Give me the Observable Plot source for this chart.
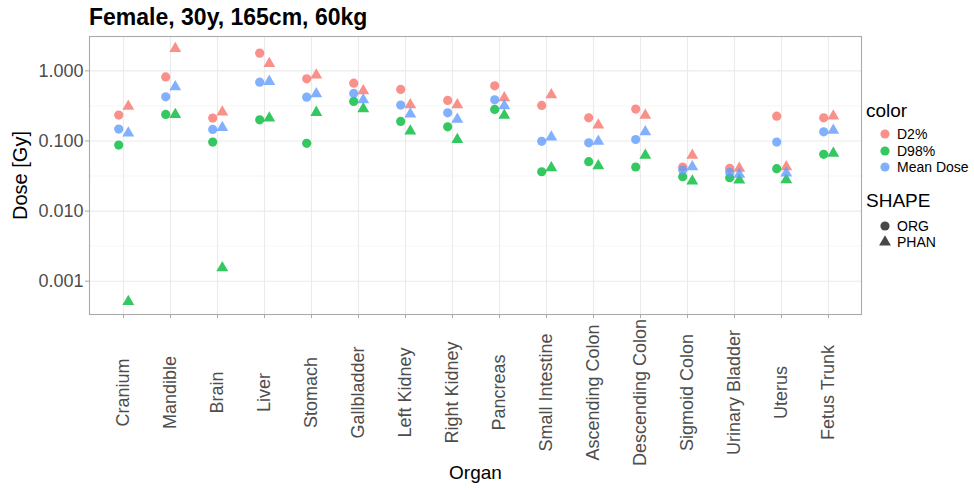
<!DOCTYPE html>
<html>
<head>
<meta charset="utf-8">
<script src="https://cdn.jsdelivr.net/npm/d3@7"></script>
<script src="https://cdn.jsdelivr.net/npm/@observablehq/plot@0.6"></script>
<style>
  body { margin: 0; background: #fff; font-family: "Liberation Sans", Arial, sans-serif; }
  #wrap { position: relative; width: 974px; height: 491px; overflow: hidden; }
  #title { position: absolute; left: 89px; top: 4px; font-size: 23px; font-weight: bold; color: #000; white-space: nowrap; }
  #chart { position: absolute; left: 0; top: 0; }
  .lg-title { position: absolute; left: 866px; font-size: 19px; color: #000; white-space: nowrap; }
  .lg-item { position: absolute; left: 878px; font-size: 14px; color: #000; white-space: nowrap; display: flex; align-items: center; }
  .lg-item svg { width: 14px; height: 14px; margin-right: 5px; }
</style>
</head>
<body>
<div id="wrap">
  <div id="chart"></div>
  <div id="title">Female, 30y, 165cm, 60kg</div>
  <div id="legend"></div>
</div>
<script>
const organs = ["Cranium","Mandible","Brain","Liver","Stomach","Gallbladder","Left Kidney","Right Kidney","Pancreas","Small Intestine","Ascending Colon","Descending Colon","Sigmoid Colon","Urinary Bladder","Uterus","Fetus Trunk"];
const measures = ["D2%","D98%","Mean Dose"];
const shapes = ["ORG","PHAN"];
const colors = ["#F8766D","#00BA38","#619CFF"];

const d2Org    = [0.234, 0.82, 0.212, 1.79, 0.769, 0.668, 0.543, 0.379, 0.611, 0.321, 0.214, 0.285, 0.0425, 0.0407, 0.226, 0.214];
const d2Phan   = [0.311, 2.08, 0.258, 1.27, 0.868, 0.519, 0.328, 0.328, 0.412, 0.455, 0.168, 0.232, 0.0624, 0.0407, 0.0429, 0.226];
const d98Org   = [0.0874, 0.239, 0.0964, 0.200, 0.0925, 0.366, 0.190, 0.159, 0.282, 0.0364, 0.0506, 0.0425, 0.0309, 0.0299, 0.0402, 0.0644];
const d98Phan  = [0.00051, 0.237, 0.00155, 0.212, 0.255, 0.288, 0.138, 0.105, 0.232, 0.0415, 0.0443, 0.0624, 0.0268, 0.0277, 0.0280, 0.0666];
const meanOrg  = [0.148, 0.426, 0.146, 0.690, 0.422, 0.476, 0.325, 0.252, 0.386, 0.0987, 0.0942, 0.105, 0.0385, 0.0357, 0.0964, 0.135];
const meanPhan = [0.130, 0.592, 0.155, 0.706, 0.470, 0.386, 0.242, 0.203, 0.317, 0.1137, 0.0987, 0.135, 0.0429, 0.0334, 0.0349, 0.1416];

const yTicks = [0.001, 0.01, 0.1, 1];
const yMinor = [0.0031623, 0.031623, 0.31623];

const series = [
  ["D2%", "ORG", d2Org], ["D98%", "ORG", d98Org], ["Mean Dose", "ORG", meanOrg],
  ["D2%", "PHAN", d2Phan], ["D98%", "PHAN", d98Phan], ["Mean Dose", "PHAN", meanPhan]
];
const rows = series.flatMap(([measure, shape, vals]) =>
  organs.map((organ, i) => ({organ, measure, shape, value: vals[i]})));

const chart = Plot.plot({
  width: 974,
  height: 491,
  marginLeft: 89,
  marginRight: 113,
  marginTop: 36,
  marginBottom: 177,
  style: {fontFamily: "'Liberation Sans', Arial, sans-serif", background: "white", overflow: "visible"},
  x: {type: "point", domain: organs, padding: 0.6},
  y: {type: "log", domain: [Math.pow(10, -3.475), Math.pow(10, 0.49)]},
  color: {domain: measures, range: colors},
  marks: [
    Plot.ruleY(yMinor, {stroke: "#F3F3F3", strokeWidth: 0.7}),
    Plot.ruleY(yTicks, {stroke: "#EBEBEB", strokeWidth: 1.1}),
    Plot.ruleX(organs, {stroke: "#EBEBEB", strokeWidth: 1.1}),
    Plot.frame({stroke: "#AAAAAA", strokeWidth: 1.1}),
    Plot.axisY({ticks: yTicks, tickFormat: d3.format(".3f"), tickSize: 4, tickPadding: 2, fontSize: 18, stroke: "#AAAAAA", fill: "#4D4D4D", label: null}),
    Plot.axisX({tickRotate: -90, tickSize: 4, tickPadding: 74, textAnchor: "middle", fontSize: 18, stroke: "#AAAAAA", fill: "#4D4D4D", label: null}),
    Plot.dot(rows.filter(d => d.shape === "ORG"), {x: "organ", y: "value", fill: "measure", symbol: "circle", r: 4.6, dx: -4.8, fillOpacity: 0.8}),
    Plot.dot(rows.filter(d => d.shape === "PHAN"), {x: "organ", y: "value", fill: "measure", symbol: "triangle", r: 4.4, dx: 4.8, fillOpacity: 0.8}),
    Plot.text(["Dose [Gy]"], {text: d => d, frameAnchor: "left", textAnchor: "middle", dx: -69, rotate: -90, fontSize: 20, fill: "#000"}),
    Plot.text(["Organ"], {text: d => d, frameAnchor: "bottom", textAnchor: "middle", dy: 164, fontSize: 19, fill: "#000"})
  ]
});
document.getElementById("chart").appendChild(chart);

// Legend
const lg = document.getElementById("legend");
function addTitle(txt, top) {
  const d = document.createElement("div");
  d.className = "lg-title"; d.style.top = top + "px"; d.textContent = txt; lg.appendChild(d);
}
function addItem(txt, top, shapeSvg) {
  const d = document.createElement("div");
  d.className = "lg-item"; d.style.top = top + "px";
  d.innerHTML = `<svg viewBox="-7 -7 14 14">${shapeSvg}</svg><span>${txt}</span>`;
  lg.appendChild(d);
}
addTitle("color", 100);
measures.forEach((m, i) => addItem(m, 126 + i * 16.5, `<circle r="4.6" fill="${colors[i]}" fill-opacity="0.8"></circle>`));
addTitle("SHAPE", 190);
const tri = d3.symbol(d3.symbolTriangle, Math.PI * 4.4 * 4.4)();
addItem(shapes[0], 218, `<circle r="4.6" fill="#333" fill-opacity="0.9"></circle>`);
addItem(shapes[1], 234, `<path d="${tri}" fill="#333" fill-opacity="0.9"></path>`);
</script>
</body>
</html>
